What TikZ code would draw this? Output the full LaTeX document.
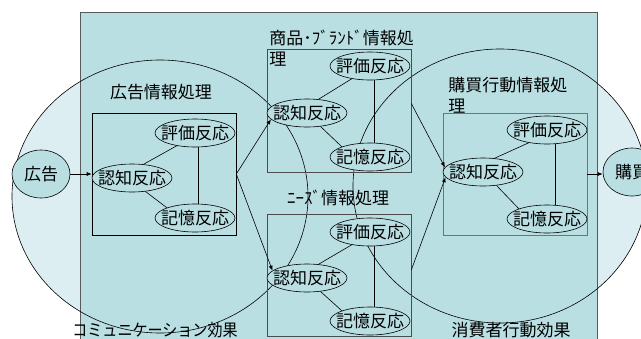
\documentclass[tikz,border=0pt]{standalone}
\usepackage{fontspec}
\setmainfont{Noto Sans CJK JP}
\usetikzlibrary{shapes.geometric,arrows.meta}
\definecolor{rectcol}{HTML}{BADFE3}
\definecolor{circcol}{HTML}{DCEEF1}
\newcommand\ebox[1]{\makebox[20pt]{#1}}
\begin{document}
\begin{tikzpicture}[x=1pt,y=-1pt,font=\fontsize{17}{21}\selectfont,line width=0.6pt,
  enode/.style={ellipse,draw=black,fill=rectcol,minimum width=80pt,minimum height=28pt,inner sep=0pt,text height=13pt,text depth=0pt},
  bnode/.style={enode,minimum width=58pt,minimum height=48pt},
  pbox/.style={draw=black!70,rectangle,inner sep=0pt,minimum width=144pt},
  ttl/.style={inner sep=0pt,text height=13pt,text depth=0pt},
  mtl/.style={anchor=base west,align=left,inner sep=0pt},
  arr/.style={-{Latex[length=5pt,width=4pt]}},
  link/.style={draw=black}]
\useasboundingbox (0,0) rectangle (641,338);
\clip (0,0) rectangle (641,338);
% circle fills
\fill[circcol] (160,196.5) ellipse [x radius=148pt, y radius=136.5pt];
\fill[circcol] (500,186) ellipse [x radius=147pt, y radius=137pt];
% big rectangle
\path[draw=black!65,fill=rectcol] (80,12) rectangle (597,345);
% circle outlines
\draw[black] (160,196.5) ellipse [x radius=148pt, y radius=136.5pt];
\draw[black] (500,186) ellipse [x radius=147pt, y radius=137pt];
% titles
\node[ttl] (t1) at (161,92) {広告情報処理};
\node[mtl] (t2) at (269,65.5) {商品･ﾌﾞﾗﾝﾄﾞ情報処\\理};
\node[ttl] (t3) at (338,198) {ﾆｰｽﾞ情報処理};
\node[mtl] (t4) at (448,112.5) {購買行動情報処\\理};
\node[ttl] (ce) at (155,330) {\scalebox{0.885}[1]{コミュニケーション効果}};
\node[ttl] (cb) at (511,330) {消費者行動効果};
% boxes
\node[pbox,draw=black,minimum height=122pt] (b1) at (164,174) {};
\node[pbox,minimum height=123pt] (b2) at (339,110.5) {};
\node[pbox,minimum height=122pt] (b3) at (339,275) {};
\node[pbox,draw=black!55,minimum height=122pt] (b4) at (515,174) {};
% end nodes
\node[bnode] (ad) at (41,174) {\ebox{広告}};
\node[bnode] (buy) at (632,172) {\ebox{購買}};
% box 1
\node[enode] (h1) at (195,133) {\ebox{評価反応}};
\node[enode] (n1) at (132,178) {\ebox{認知反応}};
\node[enode] (k1) at (195,218) {\ebox{記憶反応}};
% box 2
\node[enode] (h2) at (370,66) {\ebox{評価反応}};
\node[enode] (n2) at (307,113) {\ebox{認知反応}};
\node[enode] (k2) at (370,157) {\ebox{記憶反応}};
% box 3
\node[enode] (h3) at (370,232) {\ebox{評価反応}};
\node[enode] (n3) at (307,278) {\ebox{認知反応}};
\node[enode] (k3) at (370,321) {\ebox{記憶反応}};
% box 4
\node[enode] (h4) at (547,130) {\ebox{評価反応}};
\node[enode] (n4) at (483,172) {\ebox{認知反応}};
\node[enode] (k4) at (547,219) {\ebox{記憶反応}};
% inner links
\foreach \i/\s in {1/3,2/4,3/4,4/8}{
  \draw[link] (n\i.50) -- (h\i.215);
  \draw[link] (n\i.-45) -- (k\i.160);
  \draw[link] ([xshift=\s pt]h\i.south) -- ([xshift=\s pt]k\i.north);
}
% arrows
\draw[arr] (ad.east) -- (ad.east -| n1.west);
\draw[arr] (b1.east) -- (n2.190);
\draw[arr] (b1.east) -- (n3.168);
\draw[arr] ([yshift=7pt]b2.east) -- (n4.173);
\draw[arr] ([yshift=5pt]b3.east) -- (n4.188);
\draw[arr] (b4.east) -- (b4.east -| buy.west);
\end{tikzpicture}
\end{document}
